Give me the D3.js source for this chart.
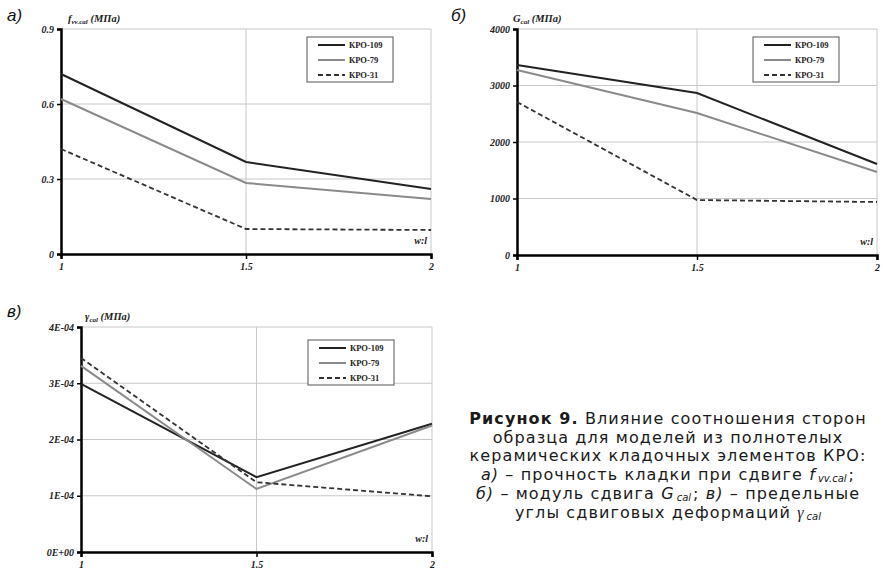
<!DOCTYPE html>
<html>
<head>
<meta charset="utf-8">
<script src="https://cdnjs.cloudflare.com/ajax/libs/d3/7.8.5/d3.min.js"></script>
<style>
  body { margin: 0; background: #fff; }
  svg { display: block; }
</style>
</head>
<body>
<svg id="chart" width="883" height="572"></svg>
<script>
// data
const ratios = [1, 1.5, 2];
const xTickLabels = ["1", "1.5", "2"];
const seriesNames = ["КРО-109", "КРО-79", "КРО-31"];

const fvv109 = [0.72, 0.368, 0.26];
const fvv79 = [0.62, 0.284, 0.22];
const fvv31 = [0.42, 0.10, 0.096];
const fvvTicks = [0, 0.3, 0.6, 0.9];
const fvvTickLabels = ["0", "0.3", "0.6", "0.9"];

const g109 = [3363, 2867, 1610];
const g79 = [3274, 2513, 1469];
const g31 = [2708, 973, 938];
const gTicks = [0, 1000, 2000, 3000, 4000];
const gTickLabels = ["0", "1000", "2000", "3000", "4000"];

const gam109 = [2.99e-4, 1.33e-4, 2.28e-4];
const gam79 = [3.31e-4, 1.12e-4, 2.25e-4];
const gam31 = [3.45e-4, 1.24e-4, 0.99e-4];
const gamTicks = [0, 1e-4, 2e-4, 3e-4, 4e-4];
const gamTickLabels = ["0E+00", "1E-04", "2E-04", "3E-04", "4E-04"];

const svg = d3.select("#chart");

const styles = [
    { stroke: "#222", width: 2, dash: null },
    { stroke: "#8a8a8a", width: 2, dash: null },
    { stroke: "#333", width: 1.8, dash: "5,3" }
];

function drawPanel(p) {
    const x = d3.scaleLinear().domain([1, 2]).range([p.left, p.right]);
    const y = d3.scaleLinear().domain([0, p.ticks[p.ticks.length - 1]]).range([p.bottom, p.top]);
    const g = svg.append("g");

    // grid
    g.selectAll(".hgrid").data(p.ticks.slice(1)).enter().append("line")
        .attr("x1", p.left).attr("x2", p.right)
        .attr("y1", d => y(d)).attr("y2", d => y(d))
        .attr("stroke", "#c8c8c8").attr("stroke-width", 1);
    g.selectAll(".vgrid").data(ratios.slice(1)).enter().append("line")
        .attr("x1", d => x(d)).attr("x2", d => x(d))
        .attr("y1", p.top).attr("y2", p.bottom)
        .attr("stroke", "#c8c8c8").attr("stroke-width", 1);

    // axes
    const yAxis = d3.axisLeft(y).tickValues(p.ticks).tickSize(4).tickFormat((d, i) => p.labels[i]);
    const xAxis = d3.axisBottom(x).tickValues(ratios).tickSize(5).tickFormat((d, i) => xTickLabels[i]);
    const ya = g.append("g").attr("transform", `translate(${p.left},0)`).call(yAxis);
    const xa = g.append("g").attr("transform", `translate(0,${p.bottom})`).call(xAxis);
    [ya, xa].forEach(a => {
        a.select(".domain").attr("stroke", "#000").attr("stroke-width", 2.5);
        a.selectAll(".tick line").attr("stroke", "#000").attr("stroke-width", 1.5);
        a.selectAll("text")
            .style("font-family", "'Liberation Serif', serif")
            .style("font-style", "italic").style("font-weight", "bold")
            .style("font-size", "10px").attr("fill", "#222");
    });
    ya.selectAll("text").attr("x", -7);
    xa.selectAll("text").attr("y", 9);

    // series
    const line = d3.line().x((d, i) => x(ratios[i])).y(d => y(d));
    p.series.forEach((s, i) => {
        g.append("path").datum(s)
            .attr("d", line)
            .attr("fill", "none")
            .attr("stroke", styles[i].stroke)
            .attr("stroke-width", styles[i].width)
            .attr("stroke-dasharray", styles[i].dash);
    });

    // axis title
    const t = g.append("text")
        .attr("x", p.left + p.titleDx).attr("y", p.top - 7)
        .style("font-family", "'Liberation Serif', serif")
        .style("font-style", "italic").style("font-weight", "bold")
        .style("font-size", "10.5px").attr("fill", "#222");
    t.append("tspan").text(p.sym);
    t.append("tspan").attr("dy", 2).style("font-size", "7px").text(p.sub);
    t.append("tspan").attr("dy", -2).text(" (MПа)");

    g.append("text")
        .attr("x", p.right - 4).attr("y", p.bottom - 10)
        .attr("text-anchor", "end")
        .style("font-family", "'Liberation Serif', serif")
        .style("font-style", "italic").style("font-weight", "bold")
        .style("font-size", "10px").attr("fill", "#222")
        .text("w:l");

    // legend
    const lg = g.append("g").attr("transform", `translate(${p.right - 124},${p.top + p.legendDy})`);
    lg.append("rect").attr("width", 86).attr("height", 45)
        .attr("fill", "#fff").attr("stroke", "#555").attr("stroke-width", 1);
    seriesNames.forEach((n, i) => {
        const ry = 8 + i * 15;
        lg.append("line").attr("x1", 11).attr("x2", 38).attr("y1", ry).attr("y2", ry)
            .attr("stroke", styles[i].stroke).attr("stroke-width", styles[i].width)
            .attr("stroke-dasharray", styles[i].dash);
        lg.append("text").attr("x", 42).attr("y", ry + 3)
            .style("font-family", "'Liberation Serif', serif")
            .style("font-weight", "bold").style("font-size", "8.5px")
            .attr("fill", "#222").text(n);
    });
}

drawPanel({ left: 61, right: 431, top: 29, bottom: 254, ticks: fvvTicks, labels: fvvTickLabels,
    series: [fvv109, fvv79, fvv31], sym: "f", sub: "vv.cal", titleDx: 7, legendDy: 8 });
drawPanel({ left: 517, right: 877, top: 29, bottom: 255, ticks: gTicks, labels: gTickLabels,
    series: [g109, g79, g31], sym: "G", sub: "cal", titleDx: -4, legendDy: 8 });
drawPanel({ left: 81, right: 432, top: 327, bottom: 552, ticks: gamTicks, labels: gamTickLabels,
    series: [gam109, gam79, gam31], sym: "γ", sub: "cal", titleDx: 4, legendDy: 13 });

// panel letters
const letterFont = "'Liberation Sans', Arial, sans-serif";
[["а)", 7, 21], ["б)", 451, 21], ["в)", 7, 317]].forEach(d => {
    svg.append("text").attr("x", d[1]).attr("y", d[2])
        .style("font-family", letterFont).style("font-style", "italic")
        .style("font-size", "17px").attr("fill", "#111").text(d[0]);
});

// caption
const capFont = "'DejaVu Sans', sans-serif";
const cx = 668;
function capLine(yy) {
    return svg.append("text").attr("x", cx).attr("y", yy).attr("text-anchor", "middle")
        .style("font-family", capFont).style("font-size", "16px")
        .style("letter-spacing", "1.1px").attr("fill", "#1a1a1a");
}
function sub(sel, txt) {
    sel.append("tspan").attr("dy", 2).attr("dx", 2)
        .style("font-style", "italic").style("font-size", "10px")
        .style("letter-spacing", "0px").text(txt);
}
let c = capLine(424);
c.append("tspan").style("font-weight", "bold").text("Рисунок 9.");
c.append("tspan").text(" Влияние соотношения сторон");
capLine(443).text("образца для моделей из полнотелых");
capLine(461).text("керамических кладочных элементов КРО:");
c = capLine(480);
c.append("tspan").style("font-style", "italic").text("а)");
c.append("tspan").text(" – прочность кладки при сдвиге ");
c.append("tspan").style("font-style", "italic").text("f");
sub(c, "vv.cal");
c.append("tspan").attr("dy", -2).attr("dx", 2).text(";");
c = capLine(499);
c.append("tspan").style("font-style", "italic").text("б)");
c.append("tspan").text(" – модуль сдвига ");
c.append("tspan").style("font-style", "italic").text("G");
sub(c, "cal");
c.append("tspan").attr("dy", -2).attr("dx", 2).text("; ");
c.append("tspan").style("font-style", "italic").text("в)");
c.append("tspan").text(" – предельные");
c = capLine(518);
c.append("tspan").text("углы сдвиговых деформаций ");
c.append("tspan").style("font-style", "italic").style("font-family", "'Liberation Serif', serif").text("γ");
sub(c, "cal");
</script>
</body>
</html>
